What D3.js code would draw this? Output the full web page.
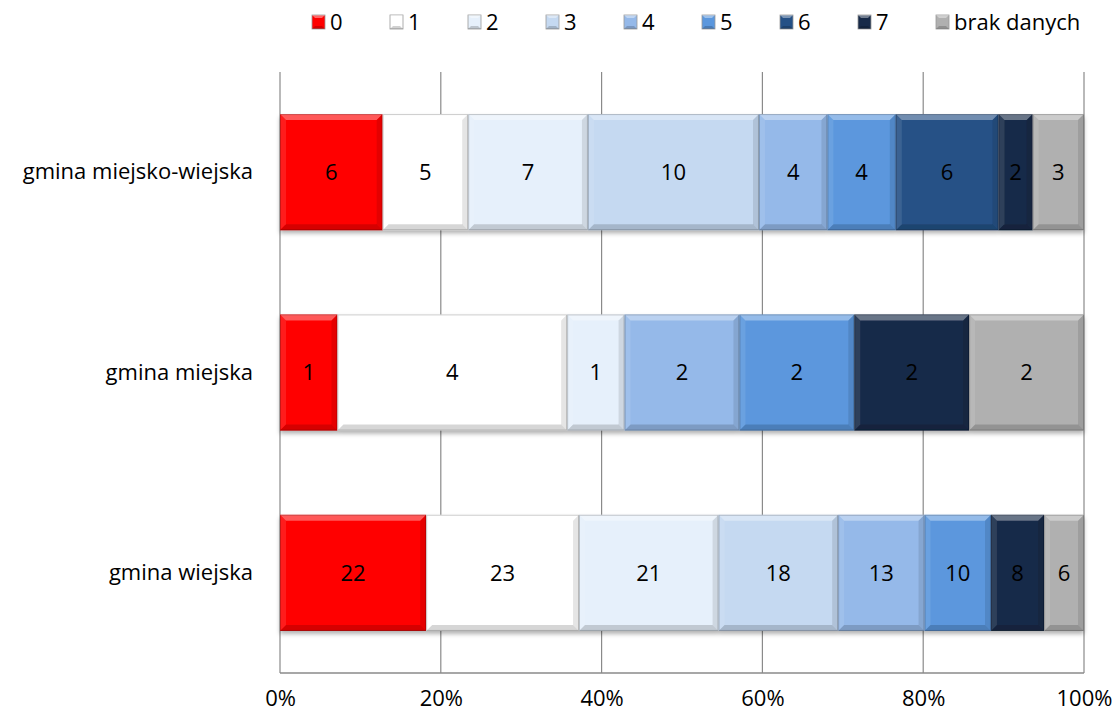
<!DOCTYPE html>
<html>
<head>
<meta charset="utf-8">
<script src="https://cdn.jsdelivr.net/npm/d3@7"></script>
<style>
  html, body { margin: 0; padding: 0; background: #fff; }
  svg { display: block; }
  text { font-family: "Open Sans", Lato, sans-serif; fill: #000; }
</style>
</head>
<body>
<svg id="chart" width="1119" height="719"></svg>
<script>
const categories = ["gmina miejsko-wiejska", "gmina miejska", "gmina wiejska"];
const seriesKeys = ["0", "1", "2", "3", "4", "5", "6", "7", "brak danych"];
const seriesColors = ["#ff0000", "#ffffff", "#e6f0fb", "#c5d9f1", "#95b9e9", "#5b97dd", "#255186", "#172a48", "#b0b0b0"];
const valuesMiejskoWiejska = [6, 5, 7, 10, 4, 4, 6, 2, 3];
const valuesMiejska = [1, 4, 1, 0, 2, 2, 0, 2, 2];
const valuesWiejska = [22, 23, 21, 18, 13, 10, 0, 8, 6];
const tickValues = [0, 0.2, 0.4, 0.6, 0.8, 1.0];
const tickLabels = ["0%", "20%", "40%", "60%", "80%", "100%"];

const FONT = 22;
const rowsValues = [valuesMiejskoWiejska, valuesMiejska, valuesWiejska];
const table = categories.map((c, i) => {
  const row = { category: c };
  seriesKeys.forEach((k, j) => row[k] = rowsValues[i][j]);
  return row;
});

const svg = d3.select("#chart");
const margin = { left: 280, right: 1084, top: 72, bottom: 673 };

const x = d3.scaleLinear().domain([0, 1]).range([margin.left, margin.right]);
const y = d3.scaleBand().domain(categories).range([margin.top, margin.bottom]).paddingInner(0.42).paddingOuter(0.21);
const color = d3.scaleOrdinal().domain(seriesKeys).range(seriesColors);

const defs = svg.append("defs");
const f = defs.append("filter").attr("id", "shadow").attr("x", "-5%").attr("y", "-20%").attr("width", "110%").attr("height", "150%");
f.append("feDropShadow").attr("dx", 0).attr("dy", 3).attr("stdDeviation", 2).attr("flood-color", "#000").attr("flood-opacity", 0.3);

// gridlines
const grid = svg.append("g");
grid.selectAll("line.v").data(tickValues).join("line")
  .attr("x1", d => x(d)).attr("x2", d => x(d))
  .attr("y1", margin.top).attr("y2", margin.bottom)
  .attr("stroke", "#8a8a8a").attr("stroke-width", 1.2);
grid.append("line")
  .attr("x1", margin.left).attr("x2", margin.right)
  .attr("y1", margin.bottom).attr("y2", margin.bottom)
  .attr("stroke", "#8a8a8a").attr("stroke-width", 1.5);

// x axis labels
const xAxis = d3.axisBottom(x).tickValues(tickValues).tickFormat((d, i) => tickLabels[i]).tickSize(0).tickPadding(0);
const xg = svg.append("g").attr("transform", `translate(0, ${margin.bottom + 17})`).call(xAxis);
xg.select(".domain").remove();
xg.selectAll("text").attr("font-size", FONT).attr("dy", "0.71em").style("font-family", "'Open Sans', sans-serif");

// y axis labels
const yAxis = d3.axisLeft(y).tickSize(0).tickPadding(0);
const yg = svg.append("g").attr("transform", `translate(${margin.left - 27}, 0)`).call(yAxis);
yg.select(".domain").remove();
yg.selectAll("text").attr("font-size", FONT).style("font-family", "'Open Sans', sans-serif");

// stacked bars
const stack = d3.stack().keys(seriesKeys).offset(d3.stackOffsetExpand);
const series = stack(table);

const barsG = svg.append("g");
categories.forEach((cat, ci) => {
  const g = barsG.append("g").attr("filter", "url(#shadow)");
  series.forEach(s => {
    const d = s[ci];
    const x0 = x(d[0]), x1 = x(d[1]);
    if (x1 - x0 < 0.5) return;
    const y0 = y(cat), y1 = y0 + y.bandwidth();
    const w = x1 - x0;
    const b = Math.min(6, w / 2);
    const seg = g.append("g");
    seg.append("rect").attr("x", x0).attr("y", y0).attr("width", w).attr("height", y1 - y0)
      .attr("fill", color(s.key));
    const poly = pts => pts.map(p => p.join(",")).join(" ");
    seg.append("polygon").attr("points", poly([[x0, y0], [x1, y0], [x1 - b, y0 + b], [x0 + b, y0 + b]]))
      .attr("fill", "#fff").attr("fill-opacity", 0.35);
    seg.append("polygon").attr("points", poly([[x0, y0], [x0 + b, y0 + b], [x0 + b, y1 - b], [x0, y1]]))
      .attr("fill", "#fff").attr("fill-opacity", 0.1);
    seg.append("polygon").attr("points", poly([[x1, y0], [x1 - b, y0 + b], [x1 - b, y1 - b], [x1, y1]]))
      .attr("fill", "#000").attr("fill-opacity", 0.1);
    seg.append("polygon").attr("points", poly([[x0, y1], [x1, y1], [x1 - b, y1 - b], [x0 + b, y1 - b]]))
      .attr("fill", "#000").attr("fill-opacity", 0.16);
    seg.append("rect").attr("x", x0 + 0.5).attr("y", y0 + 0.5).attr("width", w - 1).attr("height", y1 - y0 - 1)
      .attr("fill", "none").attr("stroke", "#000").attr("stroke-opacity", 0.2).attr("stroke-width", 1);
  });
});

// data labels
const labelsG = svg.append("g");
categories.forEach((cat, ci) => {
  series.forEach(s => {
    const d = s[ci];
    const v = d.data[s.key];
    if (!v) return;
    labelsG.append("text")
      .attr("x", (x(d[0]) + x(d[1])) / 2)
      .attr("y", y(cat) + y.bandwidth() / 2)
      .attr("text-anchor", "middle").attr("dy", "0.35em")
      .attr("font-size", FONT)
      .text(v);
  });
});

// legend
const legend = svg.append("g");
seriesKeys.forEach((k, i) => {
  const lx = 312 + i * 78, ly = 22;
  const g = legend.append("g");
  g.append("rect").attr("x", lx).attr("y", ly - 7).attr("width", 13).attr("height", 14)
    .attr("fill", color(k)).attr("stroke", "#999").attr("stroke-width", 0.8);
  g.append("polygon").attr("points", `${lx},${ly - 7} ${lx + 13},${ly - 7} ${lx + 10},${ly - 4} ${lx + 3},${ly - 4}`)
    .attr("fill", "#fff").attr("fill-opacity", 0.4);
  g.append("polygon").attr("points", `${lx},${ly + 7} ${lx + 13},${ly + 7} ${lx + 10},${ly + 4} ${lx + 3},${ly + 4}`)
    .attr("fill", "#000").attr("fill-opacity", 0.18);
  g.append("text").attr("x", lx + 18).attr("y", ly).attr("dy", "0.35em").attr("font-size", FONT).text(k);
});
</script>
</body>
</html>
